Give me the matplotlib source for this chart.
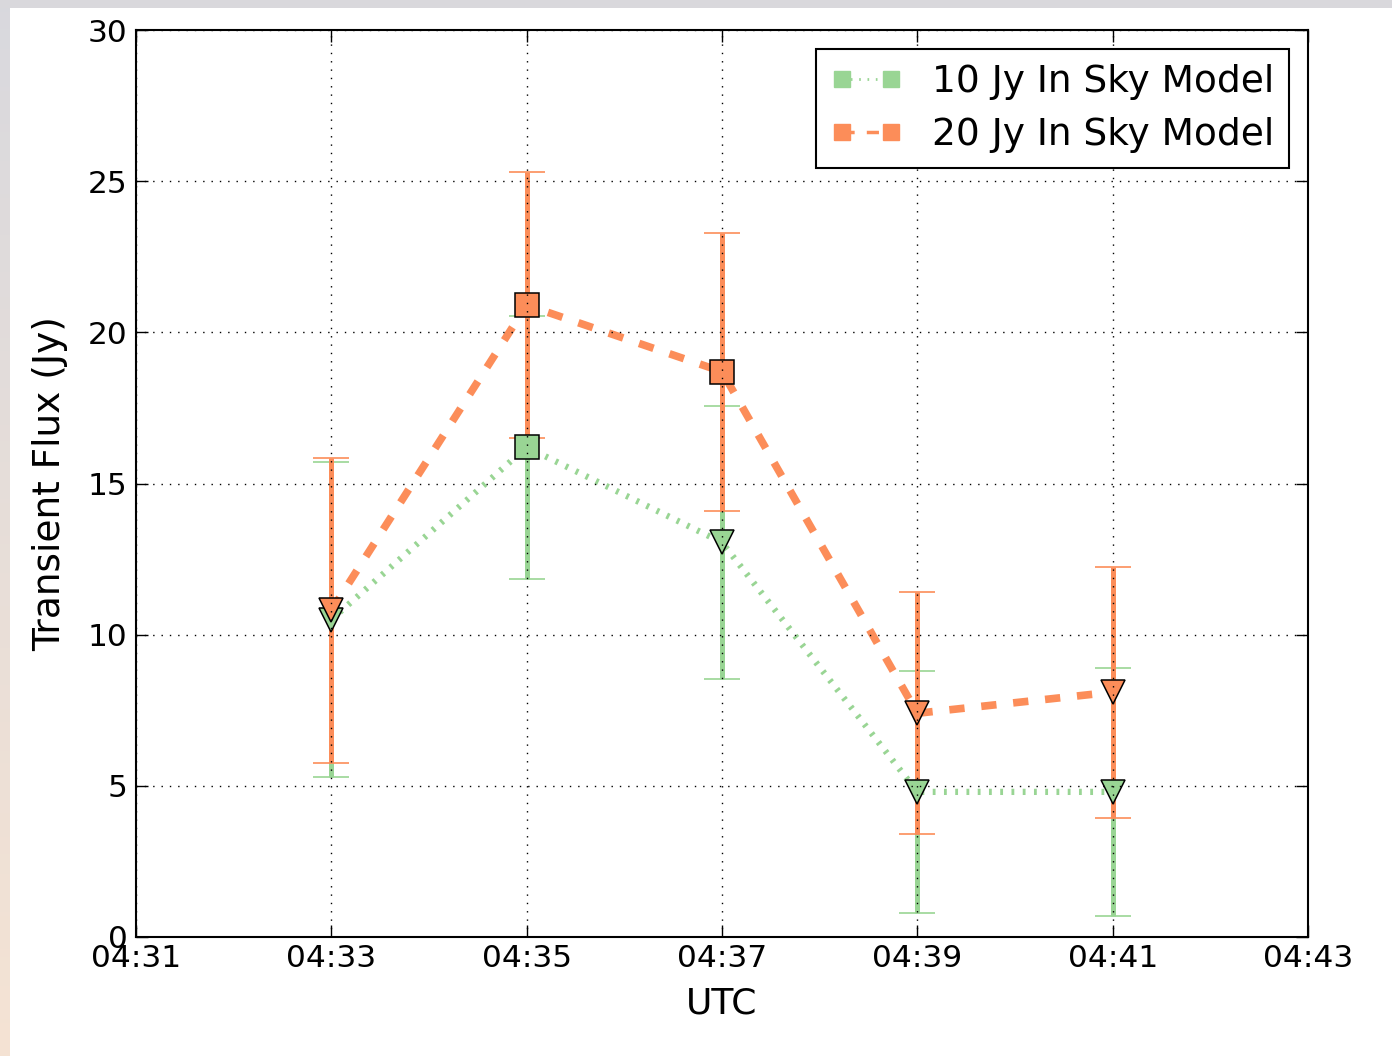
import numpy as np
import matplotlib
matplotlib.use("Agg")
from matplotlib import pyplot as plt
from matplotlib.lines import Line2D
from matplotlib.patches import Rectangle
from matplotlib.ticker import FixedLocator, FixedFormatter

# observation times (minutes past 04:00)
minutes = [33, 35, 37, 39, 41]
tick_minutes = [31, 33, 35, 37, 39, 41, 43]
tick_labels = ["04:31", "04:33", "04:35", "04:37", "04:39", "04:41", "04:43"]

# 10 Jy source in sky model
flux_10 = [10.5, 16.2, 13.05, 4.8, 4.8]
err_10 = [5.2, 4.35, 4.5, 4.0, 4.1]
markers_10 = ["v", "s", "v", "v", "v"]

# 20 Jy source in sky model
flux_20 = [10.8, 20.9, 18.7, 7.4, 8.1]
err_20 = [5.05, 4.4, 4.6, 4.0, 4.15]
markers_20 = ["v", "s", "s", "v", "v"]

green = "#99d594"
orange = "#fc8d59"

fig = plt.figure(figsize=(13.92, 10.56), dpi=100)
fig.patch.set_facecolor("white")

# grey border strips along top and left edge
fig.patches.append(Rectangle((0, 1 - 8 / 1056), 1, 8 / 1056, transform=fig.transFigure,
                             facecolor="#d9d8dc", edgecolor="none", zorder=0))
edge = fig.add_axes([0, 0, 10 / 1392, 1])
grad = np.linspace(0, 1, 256)[:, None, None]
top_c = np.array([0.85, 0.85, 0.87])
bot_c = np.array([0.96, 0.89, 0.83])
edge.imshow(top_c * (1 - grad) + bot_c * grad, aspect="auto")
edge.axis("off")

ax = fig.add_axes([136 / 1392, 119 / 1056, 1172 / 1392, 907 / 1056])

# error bars first, then connecting lines, then markers
ax.errorbar(minutes, flux_10, yerr=err_10, fmt="none", ecolor=green, elinewidth=3.6,
            capsize=13, capthick=1.2, zorder=1.0)
ax.errorbar(minutes, flux_20, yerr=err_20, fmt="none", ecolor=orange, elinewidth=3.6,
            capsize=13, capthick=1.2, zorder=1.1)
ax.plot(minutes, flux_10, color=green, lw=4.5, linestyle=(0, (0.45, 1.35)), zorder=1.2)
ax.plot(minutes, flux_20, color=orange, lw=5.5, linestyle=(0, (2.0, 2.2)), zorder=1.3)
for x, y, m in zip(minutes, flux_10, markers_10):
    ax.plot(x, y, marker=m, markersize=17, color=green, markeredgecolor="k",
            markeredgewidth=1.1, zorder=1.4)
for x, y, m in zip(minutes, flux_20, markers_20):
    ax.plot(x, y, marker=m, markersize=17, color=orange, markeredgecolor="k",
            markeredgewidth=1.1, zorder=1.5)

ax.set_xlim(31, 43)
ax.set_ylim(0, 30)
ax.xaxis.set_major_locator(FixedLocator(tick_minutes))
ax.xaxis.set_major_formatter(FixedFormatter(tick_labels))
ax.set_yticks([0, 5, 10, 15, 20, 25, 30])

ax.grid(True, color="k", lw=1, linestyle=(0, (1, 5)), zorder=3)
ax.set_axisbelow(False)
ax.tick_params(direction="in", length=8.5, width=1, top=True, right=True,
               labelsize=22.5, pad=5)
ax.tick_params(axis="y", pad=6)
for s in ax.spines.values():
    s.set_linewidth(1.5)

ax.set_xlabel("UTC", fontsize=26, labelpad=10)
ax.set_ylabel("Transient Flux (Jy)", fontsize=27, labelpad=14)

handles = [
    Line2D([], [], color=green, lw=2, linestyle=(0, (0.6, 2.4)), marker="s",
           markersize=12, markeredgecolor=green),
    Line2D([], [], color=orange, lw=2.5, linestyle=(0, (3.5, 3.5)), marker="s",
           markersize=12, markeredgecolor=orange),
]
leg = ax.legend(handles, ["10 Jy In Sky Model", "20 Jy In Sky Model"], loc="upper right",
                numpoints=2, fontsize=27, fancybox=False, framealpha=1,
                edgecolor="k", handlelength=1.9, borderaxespad=0.5, borderpad=0.4,
                handletextpad=0.8, labelspacing=0.45)
leg.get_frame().set_linewidth(1.5)

fig.savefig("out.png", dpi=100)
